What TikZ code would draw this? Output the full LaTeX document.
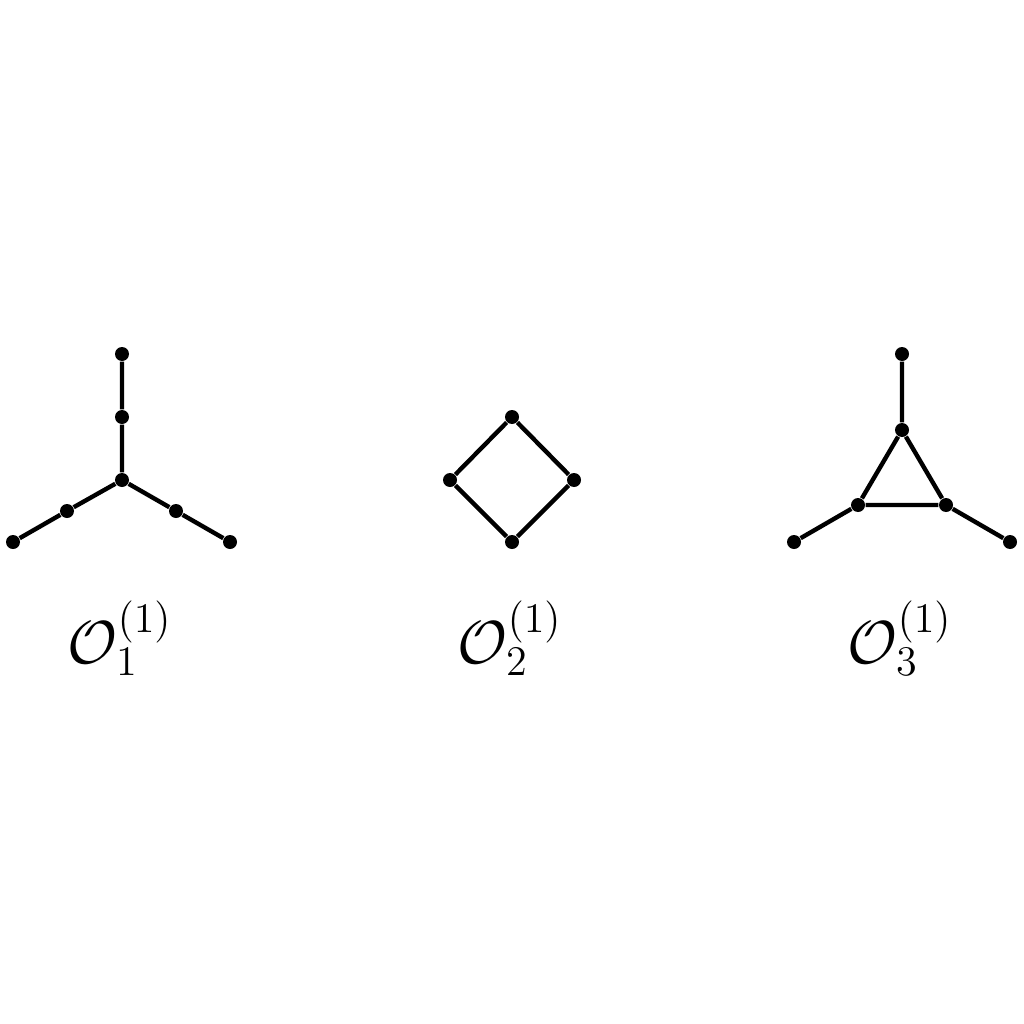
\documentclass[tikz,border=0pt]{standalone}
\begin{document}
\begin{tikzpicture}[x=0.1mm,y=-0.1mm,
  vtx/.style={circle,fill=black,inner sep=0pt,minimum size=1.4mm},
  edge/.style={line width=1.25pt},
  lbl/.style={font=\fontsize{18}{22}\selectfont}]
\useasboundingbox (0,0) rectangle (1024,1024);
% graph 1
\node[vtx] (a0) at (122,480) {};
\node[vtx] (a1) at (122,417) {};
\node[vtx] (a2) at (122,354) {};
\node[vtx] (a3) at (67,511) {};
\node[vtx] (a4) at (13,542) {};
\node[vtx] (a5) at (176,511) {};
\node[vtx] (a6) at (230,542) {};
\draw[edge] (a2) -- (a1) -- (a0) -- (a3) -- (a4);
\draw[edge] (a0) -- (a5) -- (a6);
% graph 2
\node[vtx] (b0) at (512,417) {};
\node[vtx] (b1) at (450,480) {};
\node[vtx] (b2) at (574,480) {};
\node[vtx] (b3) at (512,542) {};
\draw[edge] (b0) -- (b1) -- (b3) -- (b2) -- (b0);
% graph 3
\node[vtx] (c0) at (902,354) {};
\node[vtx] (c1) at (902,430) {};
\node[vtx] (c2) at (858,505) {};
\node[vtx] (c3) at (946,505) {};
\node[vtx] (c4) at (794,542) {};
\node[vtx] (c5) at (1010,542) {};
\draw[edge] (c0) -- (c1) -- (c2) -- (c3) -- (c1);
\draw[edge] (c2) -- (c4);
\draw[edge] (c3) -- (c5);
% labels
\node[lbl] (l1) at (120,638) {$\mathcal{O}_1^{(1)}$};
\node[lbl] (l2) at (510,638) {$\mathcal{O}_2^{(1)}$};
\node[lbl] (l3) at (900,638) {$\mathcal{O}_3^{(1)}$};
\end{tikzpicture}
\end{document}
